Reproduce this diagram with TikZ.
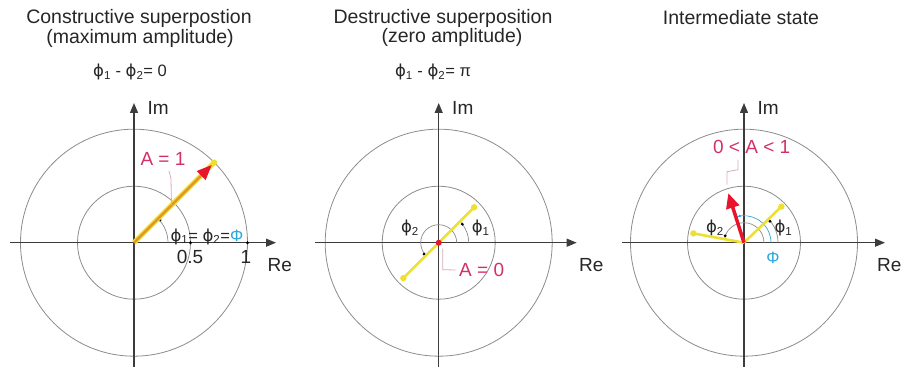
\documentclass[tikz,border=0pt]{standalone}
\usepackage{fontspec}
\setmainfont{Liberation Sans}
\newfontfamily\greekfont{DejaVu Sans}
\usetikzlibrary{arrows.meta, calc}
\definecolor{axgray}{HTML}{3C3C3C}
\definecolor{ringgray}{HTML}{8C8C8C}
\definecolor{phyellow}{HTML}{EDE02E}
\definecolor{phorange}{HTML}{E8902A}
\definecolor{resred}{HTML}{E8142C}
\definecolor{amppink}{HTML}{D43068}
\definecolor{leadpink}{HTML}{D9AAB6}
\definecolor{phicyan}{HTML}{2AA6DC}

\newcommand{\ph}[1]{{\greekfont ϕ}\textsubscript{#1}}

\tikzset{
  axis/.style={axgray, line width=1.2pt, ->},
  ring/.style={ringgray, line width=0.8pt},
  angarc/.style={ringgray, line width=0.7pt},
  yphasor/.style={phyellow, line width=2.6pt},
  lead/.style={leadpink, line width=0.8pt},
  ttl/.style={font=\fontsize{19.5}{22}\selectfont, text=black!85},
  lbl/.style={font=\fontsize{19}{22}\selectfont, text=black!85},
  sym/.style={font=\fontsize{16.5}{19}\selectfont, text=black!85},
  amp/.style={font=\fontsize{19}{22}\selectfont, text=amppink}
}

\begin{document}
\begin{tikzpicture}[x=1pt, y=1pt, >={Triangle[length=10pt, width=8pt]}]
\useasboundingbox (0,0) rectangle (903,367);

% Titles
\node[ttl] (t1) at (139,349) {Constructive superpostion};
\node[ttl] (t1b) at (140,329) {(maximum amplitude)};
\node[sym] (t1c) at (130,295) {\ph{1} - \ph{2}= 0};
\node[ttl] (t2) at (443,349) {Destructive superposition};
\node[ttl] (t2b) at (452,330) {(zero amplitude)};
\node[sym] (t2c) at (433,295) {\ph{1} - \ph{2}= π};
\node[ttl] (t3) at (741,349) {Intermediate state};

% ---------- Constructive ----------
\begin{scope}[shift={(134,124.3)}]
  \coordinate (O1) at (0,0);
  \draw[ring] (O1) circle (113.5);
  \draw[ring] (O1) circle (56.5);
  \draw[axis] (-124,0) -- (142,0);
  \draw[axis] (0,-125) -- (0,139.7);
  \node[lbl, anchor=west] (im1) at (10,134.7) {Im};
  \node[lbl, anchor=west] (re1) at (130,-22.3) {Re};
  % ticks
  \fill (56.5,0) circle (1.6);
  \fill (113.5,0) circle (1.6);
  \node[lbl] (half) at (56,-13.8) {0.5};
  \node[lbl] (one) at (112,-14.3) {1};
  % angle
  \draw[angarc] (34,0) arc[start angle=0, end angle=45, radius=34];
  \fill (41:34.5) circle (1.6);
  % phasors
  \draw[yphasor, line width=5pt] (O1) -- (45:113.5);
  \fill[phyellow] (45:56.5) circle (3);
  \fill[phyellow] (45:113.5) circle (3);
  \draw[phorange, line width=2.4pt, -{Triangle[length=15pt, width=12pt, color=resred]}] (O1) -- (45:110);
  \coordinate (tip1) at (45:53);
  \node[amp] (A1) at (29,84) {A = 1};
  \draw[lead] (35,72) -- (37,64) -- (tip1);
  \node[sym, anchor=west] (eq1) at (33,6) {\ph{1}= \ph{2}=\textcolor{phicyan}{Φ}};
\end{scope}

% ---------- Destructive ----------
\begin{scope}[shift={(438.7,124.3)}]
  \coordinate (O2) at (0,0);
  \draw[ring] (O2) circle (113.5);
  \draw[ring] (O2) circle (56.5);
  \draw[axis] (-124,0) -- (138,0);
  \draw[axis] (0,-125) -- (0,139.7);
  \node[lbl, anchor=west] (im2) at (10,134.7) {Im};
  \node[lbl, anchor=west] (re2) at (137,-22.3) {Re};
  % angles
  \draw[angarc] (30,0) arc[start angle=0, end angle=45, radius=30];
  \fill (38:30) circle (1.6);
  \draw[angarc] (18,0) arc[start angle=0, end angle=225, radius=18];
  \fill (218:18.5) circle (1.6);
  \node[sym] (p21) at (42,14.7) {\ph{1}};
  \node[sym] (p22) at (-28.7,14.7) {\ph{2}};
  % phasors
  \coordinate (a2) at (45:50);
  \coordinate (b2) at (225:50);
  \draw[yphasor] (O2) -- (a2);
  \draw[yphasor] (O2) -- (b2);
  \fill[phyellow] (a2) circle (3.2);
  \fill[phyellow] (b2) circle (3.2);
  \fill[resred] (O2) circle (3);
  \node[amp, anchor=west] (A2) at (17,-27.3) {A = 0};
  \draw[lead] (4,-6) -- (4,-27) -- (A2.west);
\end{scope}

% ---------- Intermediate ----------
\begin{scope}[shift={(744,124.3)}]
  \coordinate (O3) at (0,0);
  \draw[ring] (O3) circle (113.5);
  \draw[ring] (O3) circle (56.5);
  \draw[axis] (-122,0) -- (141,0);
  \draw[axis] (0,-125) -- (0,139.7);
  \node[lbl, anchor=west] (im3) at (10,134.7) {Im};
  \node[lbl, anchor=west] (re3) at (129.5,-22.3) {Re};
  % angles
  \draw[angarc] (34,0) arc[start angle=0, end angle=44, radius=34];
  \fill (39.5:33.7) circle (1.6);
  \draw[angarc] (20,0) arc[start angle=0, end angle=170, radius=20];
  \fill (160:20) circle (1.6);
  \draw[phicyan, line width=0.7pt] (27,0) arc[start angle=0, end angle=107, radius=27];
  \fill[phicyan] (99:27) circle (1.4);
  \node[sym] (p31) at (39.5,14.3) {\ph{1}};
  \node[sym] (p32) at (-29,14.3) {\ph{2}};
  \node[sym, text=phicyan] (Phi3) at (29,-15.3) {Φ};
  % phasors
  \coordinate (a3) at (44:52);
  \coordinate (b3) at (169.6:51.5);
  \draw[yphasor] (O3) -- (a3);
  \draw[yphasor] (O3) -- (b3);
  \fill[phyellow] (a3) circle (3.2);
  \fill[phyellow] (b3) circle (3.2);
  \coordinate (r3) at (107.6:52);
  \draw[resred, line width=3.5pt, -{Triangle[length=15pt, width=13pt]}] (O3) -- (r3);
  \node[amp] (A3) at (7.7,96) {0 < A < 1};
  \draw[lead] (-6,83) -- (-6,73) -- (-17,71) -- (-17,58);
\end{scope}

\end{tikzpicture}
\end{document}
